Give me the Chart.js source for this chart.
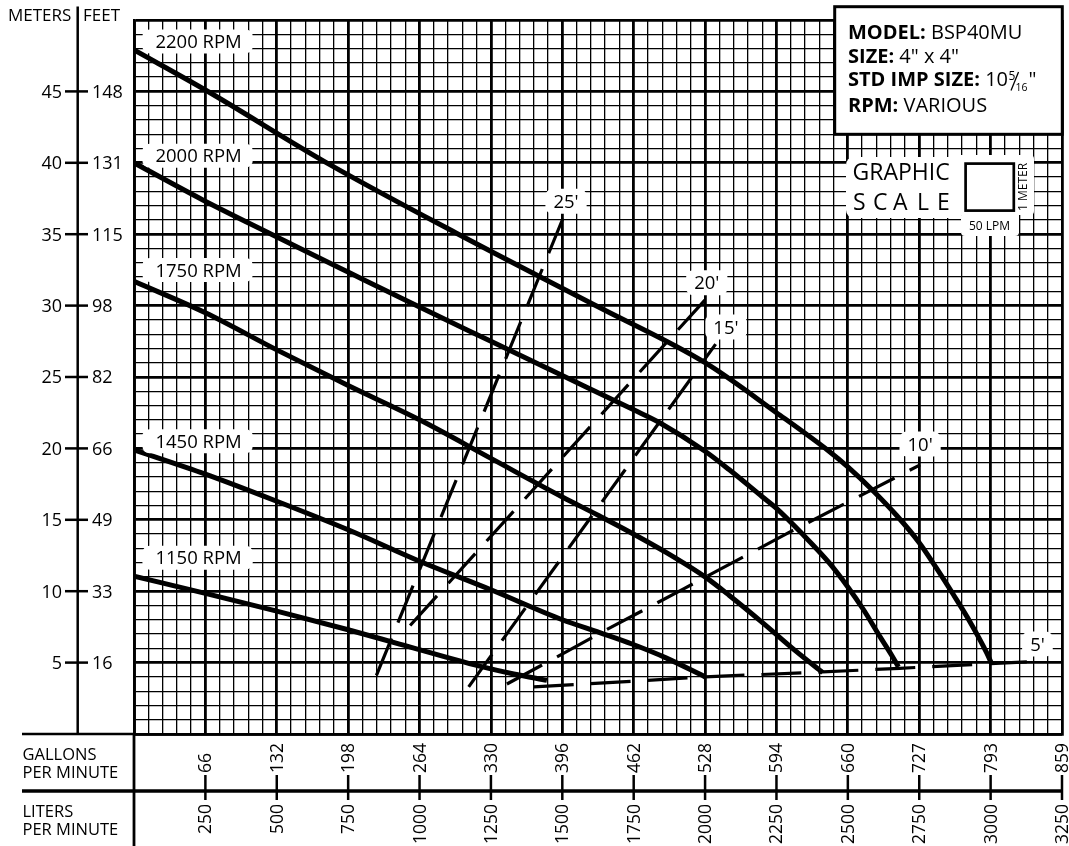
<!DOCTYPE html>
<html>
<head>
<meta charset="utf-8">
<title>BSP40MU pump curves</title>
<script src="https://cdn.jsdelivr.net/npm/chart.js@4.4.1/dist/chart.umd.min.js"></script>
<style>
  html, body { margin: 0; padding: 0; background: #fff; }
  canvas { display: block; }
</style>
</head>
<body>
<canvas id="pumpChart" width="1069" height="846"></canvas>
<script>
'use strict';

// flow ticks (liters / gallons per minute)
const lpmTicks = [250, 500, 750, 1000, 1250, 1500, 1750, 2000, 2250, 2500, 2750, 3000, 3250];
const gpmTicks = [66, 132, 198, 264, 330, 396, 462, 528, 594, 660, 727, 793, 859];
// head ticks (meters / feet)
const meterTicks = [5, 10, 15, 20, 25, 30, 35, 40, 45];
const feetTicks = [16, 33, 49, 66, 82, 98, 115, 131, 148];

// pump curves, flow in LPM and head in meters
const rpmNames = ['2200 RPM', '2000 RPM', '1750 RPM', '1450 RPM', '1150 RPM'];

const flow2200 = [0, 250, 675, 1136, 1627, 2000, 2250, 2434, 2500, 2590, 2671, 2750, 2811, 2870, 2928, 2986, 3003];
const head2200 = [47.9, 45.1, 40.0, 35.0, 29.9, 26.0, 22.5, 19.8, 18.7, 17.0, 15.3, 13.4, 11.6, 9.75, 7.85, 5.7, 4.95];

const flow2000 = [0, 241, 481, 755, 1000, 1250, 1500, 1750, 1841, 2000, 2085, 2201, 2250, 2341, 2434, 2500, 2555, 2613, 2654, 2677];
const head2000 = [40.0, 37.4, 35.0, 32.3, 29.9, 27.5, 25.1, 22.7, 21.8, 19.8, 18.5, 16.6, 15.8, 14.0, 12.0, 10.3, 8.7, 6.8, 5.5, 4.7];

const flow1750 = [0, 250, 500, 750, 1000, 1250, 1500, 1627, 1736, 1852, 2000, 2085, 2201, 2318, 2412];
const head1750 = [31.7, 29.5, 26.9, 24.4, 22.0, 19.3, 16.6, 15.3, 14.15, 12.85, 11.0, 9.7, 7.8, 5.8, 4.3];

const flow1450 = [0, 250, 500, 750, 1000, 1250, 1500, 1631, 1744, 1861, 2000];
const head1450 = [19.9, 18.2, 16.3, 14.3, 12.1, 10.1, 8.0, 7.1, 6.3, 5.35, 4.0];

const flow1150 = [0, 250, 500, 750, 930, 1210, 1330, 1446];
const head1150 = [11.05, 9.85, 8.6, 7.3, 6.3, 4.75, 4.2, 3.76];

// NPSH lines (dashed), feet labels
const npshNames = ["25'", "20'", "15'", "10'", "5'"];

const flowNpsh25 = [849, 1502];
const headNpsh25 = [4.1, 36.1];
const flowNpsh20 = [967, 2000];
const headNpsh20 = [7.6, 30.4];
const flowNpsh15 = [1172, 2037];
const headNpsh15 = [3.3, 27.3];
const flowNpsh10 = [1306, 1523, 1631, 1928, 2283, 2753];
const headNpsh10 = [3.5, 5.85, 7.05, 10.2, 14.0, 18.85];
const flowNpsh5 = [1400, 1750, 2000, 2412, 2681, 3000, 3127];
const headNpsh5 = [3.3, 3.7, 4.0, 4.35, 4.6, 4.93, 5.05];

const FONT = '"Open Sans", "Noto Sans", sans-serif';

function font(size, bold) {
  return (bold ? 'bold ' : '') + size + 'px ' + FONT;
}

function toPoints(flow, head) {
  return flow.map((f, i) => ({ x: f, y: head[i] }));
}

function pumpCurve(name, flow, head) {
  return {
    label: name,
    data: toPoints(flow, head),
    borderColor: '#000',
    borderWidth: 5,
    borderCapStyle: 'butt',
    borderJoinStyle: 'round',
    cubicInterpolationMode: 'monotone',
    pointRadius: 0,
    fill: false
  };
}

function npshLine(name, flow, head) {
  return {
    label: name,
    data: toPoints(flow, head),
    borderColor: '#000',
    borderWidth: 3.2,
    borderDash: [40, 17],
    borderCapStyle: 'butt',
    tension: 0,
    pointRadius: 0,
    fill: false
  };
}

function line(ctx, x1, y1, x2, y2) {
  ctx.beginPath();
  ctx.moveTo(x1, y1);
  ctx.lineTo(x2, y2);
  ctx.stroke();
}

function whiteBox(ctx, x, y, w, h, r) {
  ctx.fillStyle = '#fff';
  ctx.beginPath();
  ctx.roundRect(x, y, w, h, r);
  ctx.fill();
  ctx.fillStyle = '#000';
}

// where the curve tags sit (flow, head)
const rpmTagAt = [[75, 48.5], [75, 40.5], [75, 32.5], [75, 20.5], [75, 12.35]];
const npshTagAt = [[1513, 37.3], [2006, 31.6], [2073, 28.5], [2753, 20.3], [3164, 6.3]];

const decorPlugin = {
  id: 'decor',
  afterDatasetsDraw(chart) {
    const { ctx, scales: { x, y } } = chart;
    ctx.save();
    ctx.fillStyle = '#000';
    ctx.textBaseline = 'alphabetic';

    // rpm tags
    ctx.font = font(18.5);
    ctx.textAlign = 'left';
    rpmNames.forEach((t, i) => {
      const px = x.getPixelForValue(rpmTagAt[i][0]);
      const py = y.getPixelForValue(rpmTagAt[i][1]);
      const w = ctx.measureText(t).width;
      whiteBox(ctx, px - 13, py - 12, w + 24, 24, 7);
      ctx.fillText(t, px, py + 6.6);
    });

    // npsh tags
    ctx.textAlign = 'center';
    npshNames.forEach((t, i) => {
      const px = x.getPixelForValue(npshTagAt[i][0]);
      const py = y.getPixelForValue(npshTagAt[i][1]);
      const w = ctx.measureText(t).width;
      whiteBox(ctx, px - w / 2 - 8, py - 12.5, w + 16, 25, 7);
      ctx.fillText(t, px, py + 6.6);
    });
    ctx.restore();
  },
  afterDraw(chart) {
    const { ctx, chartArea, scales: { x, y } } = chart;
    const left = chartArea.left;
    const right = chartArea.right;
    const bottom = chartArea.bottom;
    ctx.save();
    ctx.fillStyle = '#000';
    ctx.strokeStyle = '#000';
    ctx.lineCap = 'butt';

    // meters | feet column
    ctx.font = font(17);
    ctx.textBaseline = 'alphabetic';
    ctx.textAlign = 'left';
    ctx.fillText('METERS', 8, 20.7);
    ctx.fillText('FEET', 83, 20.7);
    ctx.lineWidth = 2.5;
    line(ctx, 77.7, 6.5, 77.7, bottom);

    ctx.font = font(18);
    meterTicks.forEach((m, i) => {
      const py = y.getPixelForValue(m);
      line(ctx, 65, py, 88, py);
      ctx.textAlign = 'right';
      ctx.fillText(String(m), 62, py + 6.4);
      ctx.textAlign = 'left';
      ctx.fillText(String(feetTicks[i]), 92, py + 6.4);
    });

    // flow bands under the grid
    ctx.lineWidth = 2.5;
    line(ctx, 22, bottom, left, bottom);
    ctx.lineWidth = 3.5;
    line(ctx, 22, 791, right + 1, 791);
    ctx.lineWidth = 2.8;
    line(ctx, left, bottom, left, 846);

    ctx.font = font(16.5);
    ctx.textAlign = 'left';
    ctx.fillText('GALLONS', 22.5, 760);
    ctx.fillText('PER MINUTE', 22.5, 778);
    ctx.fillText('LITERS', 22.5, 817);
    ctx.fillText('PER MINUTE', 22.5, 835);

    ctx.font = font(17.5);
    ctx.textBaseline = 'middle';
    ctx.lineWidth = 2.5;
    lpmTicks.forEach((v, i) => {
      const px = x.getPixelForValue(v);
      line(ctx, px, 775, px, 800);
      ctx.save();
      ctx.translate(px, 773);
      ctx.rotate(-Math.PI / 2);
      ctx.textAlign = 'left';
      ctx.fillText(String(gpmTicks[i]), 0, 1);
      ctx.restore();
      ctx.save();
      ctx.translate(px, 804);
      ctx.rotate(-Math.PI / 2);
      ctx.textAlign = 'right';
      ctx.fillText(String(v), 0, 1);
      ctx.restore();
    });

    // model box
    ctx.textBaseline = 'alphabetic';
    ctx.fillStyle = '#fff';
    ctx.fillRect(834.7, 6.7, 227.6, 127.6);
    ctx.lineWidth = 3;
    ctx.strokeRect(834.7, 6.7, 227.6, 127.6);
    ctx.fillStyle = '#000';
    ctx.textAlign = 'left';
    const rows = [
      [['MODEL:', true], [' BSP40MU', false]],
      [['SIZE:', true], [' 4" x 4"', false]],
      [['STD IMP SIZE:', true], [' 10', false]],
      [['RPM:', true], [' VARIOUS', false]]
    ];
    const baselines = [38.5, 63.3, 86.3, 111.5];
    let endX = 0;
    rows.forEach((parts, r) => {
      let px = 848;
      parts.forEach(([t, bold]) => {
        ctx.font = font(20, bold);
        ctx.fillText(t, px, baselines[r]);
        px += ctx.measureText(t).width;
      });
      if (r === 2) endX = px;
    });
    // 5/16 fraction after the 10
    ctx.font = font(12);
    ctx.fillText('5', endX + 0.5, 80);
    ctx.lineWidth = 1.3;
    line(ctx, endX + 3, 90.5, endX + 10.5, 72);
    ctx.font = font(10.5);
    ctx.fillText('16', endX + 7.5, 91);
    ctx.font = font(20);
    ctx.fillText('"', endX + 20.5, 86.3);

    // graphic scale
    whiteBox(ctx, 846, 157, 113, 61, 8);
    whiteBox(ctx, 956, 155, 78, 60, 4);
    whiteBox(ctx, 961, 212, 58, 24, 4);
    ctx.font = font(23);
    ctx.fillText('GRAPHIC', 852.5, 180);
    const scaleLetters = ['S', 'C', 'A', 'L', 'E'];
    const letterX = [853, 873, 893, 917, 937];
    scaleLetters.forEach((c, i) => ctx.fillText(c, letterX[i], 210));
    ctx.lineWidth = 2.7;
    ctx.strokeRect(965.6, 163.6, 48.2, 47);
    ctx.font = font(12);
    ctx.textAlign = 'center';
    ctx.fillText('50 LPM', 989.5, 230);
    ctx.save();
    ctx.translate(1024, 187);
    ctx.rotate(-Math.PI / 2);
    ctx.textBaseline = 'middle';
    ctx.fillText('1 METER', 0, 0);
    ctx.restore();

    ctx.restore();
  }
};

function gridWidth(major) {
  return (c) => (c.tick && Math.round(c.tick.value) % major === 0 ? 2.8 : 1.3);
}

const chart = new Chart(document.getElementById('pumpChart'), {
  type: 'line',
  data: {
    datasets: [
      pumpCurve(rpmNames[0], flow2200, head2200),
      pumpCurve(rpmNames[1], flow2000, head2000),
      pumpCurve(rpmNames[2], flow1750, head1750),
      pumpCurve(rpmNames[3], flow1450, head1450),
      pumpCurve(rpmNames[4], flow1150, head1150),
      npshLine(npshNames[0], flowNpsh25, headNpsh25),
      npshLine(npshNames[1], flowNpsh20, headNpsh20),
      npshLine(npshNames[2], flowNpsh15, headNpsh15),
      npshLine(npshNames[3], flowNpsh10, headNpsh10),
      npshLine(npshNames[4], flowNpsh5, headNpsh5)
    ]
  },
  options: {
    responsive: false,
    animation: false,
    events: [],
    layout: { padding: { left: 134, top: 20, right: 7, bottom: 112 } },
    plugins: {
      legend: { display: false },
      tooltip: { enabled: false }
    },
    scales: {
      x: {
        type: 'linear',
        min: 0,
        max: 3250,
        ticks: { display: false, stepSize: 50, maxTicksLimit: 1000, autoSkip: false },
        grid: { color: '#000', lineWidth: gridWidth(250), drawTicks: false },
        border: { display: true, color: '#000', width: 2.8 }
      },
      y: {
        type: 'linear',
        min: 0,
        max: 50,
        ticks: { display: false, stepSize: 1, maxTicksLimit: 1000, autoSkip: false },
        grid: { color: '#000', lineWidth: gridWidth(5), drawTicks: false },
        border: { display: true, color: '#000', width: 2.8 }
      }
    }
  },
  plugins: [decorPlugin]
});
</script>
</body>
</html>
